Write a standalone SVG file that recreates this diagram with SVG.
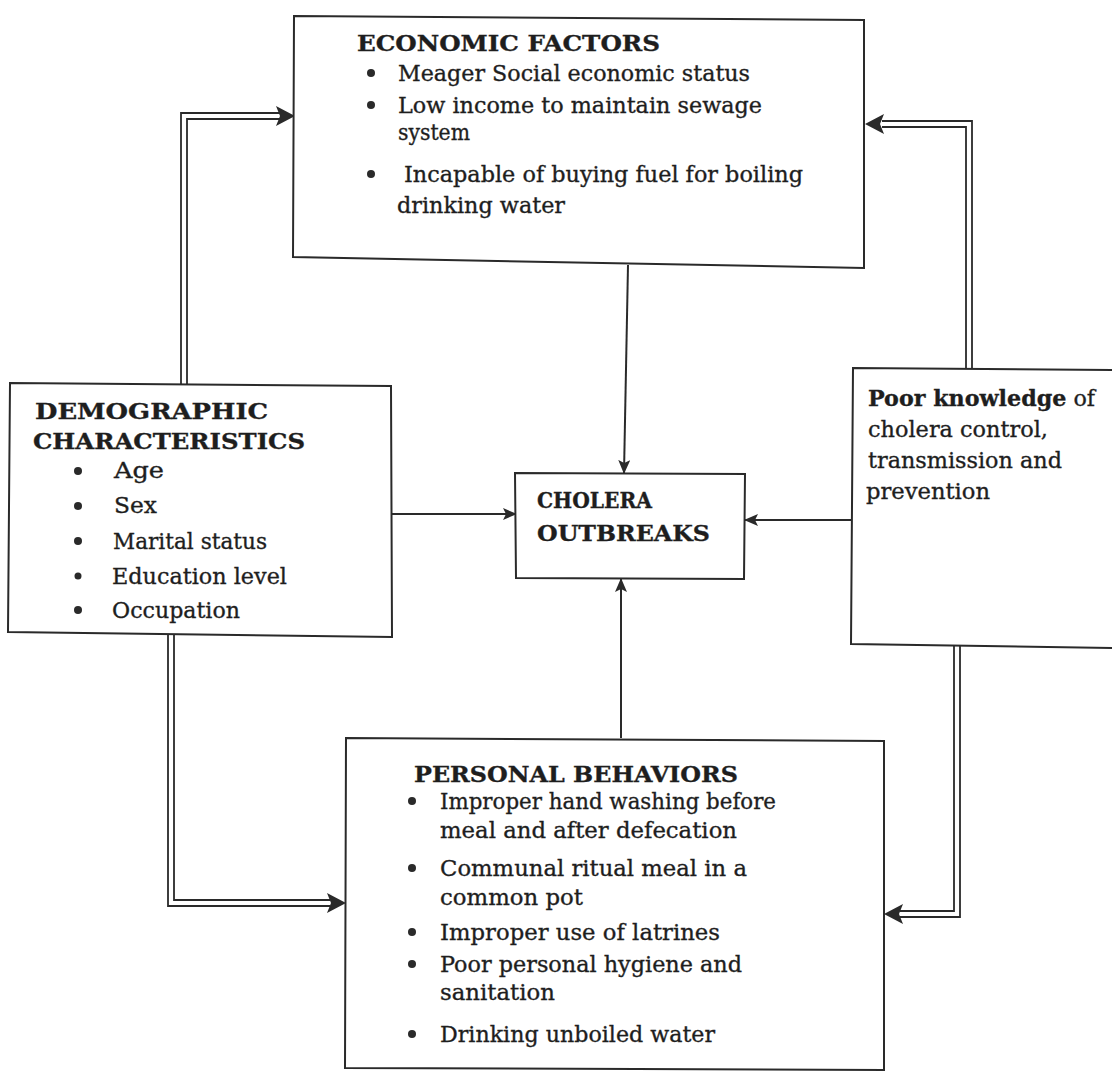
<svg xmlns="http://www.w3.org/2000/svg" width="1112" height="1076" viewBox="0 0 1112 1076">
<style>
.box{fill:#fff;stroke:#2a2a2a;stroke-width:2}
.t{font-family:"DejaVu Serif","Liberation Serif",serif;font-size:23px;fill:#1e1e1e;stroke:#1e1e1e;stroke-width:0.35}
.b{font-weight:bold}
.dot{fill:#2a2a2a}
.ln{fill:none;stroke:#2a2a2a;stroke-width:2}
.dl{fill:none;stroke:#2a2a2a;stroke-width:1.8}
.ah{fill:#2a2a2a}
</style>
<defs>
<marker id="arr" markerUnits="userSpaceOnUse" markerWidth="14" markerHeight="12" refX="13" refY="6" orient="auto"><path d="M0,0 L14,6 L0,12 L3,6 Z" fill="#2a2a2a"/></marker>
</defs>
<rect width="1112" height="1076" fill="#fff"/>

<g id="connectors">
  <polyline class="dl" points="181,384 181,113 280,113"/>
  <polyline class="dl" points="187,384 187,119 280,119"/>
  <path class="ah" d="M276,106 L295,116 L276,126 L280,116 Z"/>

  <polyline class="dl" points="972,369 972,121 882,121"/>
  <polyline class="dl" points="966,369 966,127 882,127"/>
  <path class="ah" d="M884,114 L865,124 L884,134 L880,124 Z"/>

  <polyline class="dl" points="168,634 168,906 330,906"/>
  <polyline class="dl" points="174,634 174,900 330,900"/>
  <path class="ah" d="M327,893 L346,903 L327,913 L331,903 Z"/>

  <polyline class="dl" points="960,646 960,917 900,917"/>
  <polyline class="dl" points="954,646 954,911 900,911"/>
  <path class="ah" d="M903,904 L884,914 L903,924 L899,914 Z"/>

  <line class="ln" x1="628" y1="265" x2="624" y2="473" marker-end="url(#arr)"/>
  <line class="ln" x1="392" y1="514" x2="516" y2="514" marker-end="url(#arr)"/>
  <line class="ln" x1="852" y1="520" x2="745" y2="520" marker-end="url(#arr)"/>
  <line class="ln" x1="621" y1="738" x2="621" y2="579" marker-end="url(#arr)"/>
</g>

<g id="economic">
  <polygon class="box" points="294,16 864,20 864,268 293,257"/>
  <text class="t b" x="357" y="51" textLength="303" lengthAdjust="spacingAndGlyphs">ECONOMIC FACTORS</text>
  <circle class="dot" cx="371" cy="73" r="4"/>
  <text class="t" x="398" y="81" textLength="352" lengthAdjust="spacingAndGlyphs">Meager Social economic status</text>
  <circle class="dot" cx="371" cy="105" r="4"/>
  <text class="t" x="398" y="113" textLength="364" lengthAdjust="spacingAndGlyphs">Low income to maintain sewage</text>
  <text class="t" x="398" y="140" textLength="72" lengthAdjust="spacingAndGlyphs">system</text>
  <circle class="dot" cx="371" cy="174" r="4"/>
  <text class="t" x="404" y="182" textLength="399" lengthAdjust="spacingAndGlyphs">Incapable of buying fuel for boiling</text>
  <text class="t" x="397" y="213" textLength="168" lengthAdjust="spacingAndGlyphs">drinking water</text>
</g>

<g id="demographic">
  <polygon class="box" points="10,383 391,386 392,637 8,632"/>
  <text class="t b" x="35" y="419" textLength="233" lengthAdjust="spacingAndGlyphs">DEMOGRAPHIC</text>
  <text class="t b" x="33" y="449" textLength="272" lengthAdjust="spacingAndGlyphs">CHARACTERISTICS</text>
  <circle class="dot" cx="78" cy="471" r="4"/>
  <text class="t" x="114" y="478" textLength="50" lengthAdjust="spacingAndGlyphs">Age</text>
  <circle class="dot" cx="78" cy="506" r="4"/>
  <text class="t" x="114" y="513" textLength="43" lengthAdjust="spacingAndGlyphs">Sex</text>
  <circle class="dot" cx="78" cy="541" r="4"/>
  <text class="t" x="113" y="549" textLength="154" lengthAdjust="spacingAndGlyphs">Marital status</text>
  <circle class="dot" cx="78" cy="576" r="3.5"/>
  <text class="t" x="112" y="584" textLength="175" lengthAdjust="spacingAndGlyphs">Education level</text>
  <circle class="dot" cx="78" cy="610" r="4"/>
  <text class="t" x="112" y="618" textLength="128" lengthAdjust="spacingAndGlyphs">Occupation</text>
</g>

<g id="cholera">
  <polygon class="box" points="515,473 745,474 744,579 516,578"/>
  <text class="t b" x="537" y="508" textLength="115" lengthAdjust="spacingAndGlyphs">CHOLERA</text>
  <text class="t b" x="537" y="541" textLength="173" lengthAdjust="spacingAndGlyphs">OUTBREAKS</text>
</g>

<g id="knowledge">
  <polygon class="box" points="853,368 1113,370 1113,648 851,644"/>
  <text class="t" x="868" y="406" textLength="227" lengthAdjust="spacingAndGlyphs"><tspan class="b">Poor knowledge</tspan> of</text>
  <text class="t" x="868" y="437" textLength="180" lengthAdjust="spacingAndGlyphs">cholera control,</text>
  <text class="t" x="868" y="468" textLength="194" lengthAdjust="spacingAndGlyphs">transmission and</text>
  <text class="t" x="866" y="499" textLength="124" lengthAdjust="spacingAndGlyphs">prevention</text>
</g>

<g id="personal">
  <polygon class="box" points="346,738 884,741 884,1070 345,1068"/>
  <text class="t b" x="414" y="782" textLength="324" lengthAdjust="spacingAndGlyphs">PERSONAL BEHAVIORS</text>
  <circle class="dot" cx="412" cy="801" r="4"/>
  <text class="t" x="440" y="809" textLength="336" lengthAdjust="spacingAndGlyphs">Improper hand washing before</text>
  <text class="t" x="440" y="838" textLength="297" lengthAdjust="spacingAndGlyphs">meal and after defecation</text>
  <circle class="dot" cx="412" cy="868" r="4"/>
  <text class="t" x="440" y="876" textLength="307" lengthAdjust="spacingAndGlyphs">Communal ritual meal in a</text>
  <text class="t" x="440" y="905" textLength="143" lengthAdjust="spacingAndGlyphs">common pot</text>
  <circle class="dot" cx="412" cy="932" r="4"/>
  <text class="t" x="440" y="940" textLength="280" lengthAdjust="spacingAndGlyphs">Improper use of latrines</text>
  <circle class="dot" cx="412" cy="964" r="4"/>
  <text class="t" x="440" y="972" textLength="302" lengthAdjust="spacingAndGlyphs">Poor personal hygiene and</text>
  <text class="t" x="440" y="1000" textLength="115" lengthAdjust="spacingAndGlyphs">sanitation</text>
  <circle class="dot" cx="412" cy="1034" r="4"/>
  <text class="t" x="440" y="1042" textLength="275" lengthAdjust="spacingAndGlyphs">Drinking unboiled water</text>
</g>
</svg>
